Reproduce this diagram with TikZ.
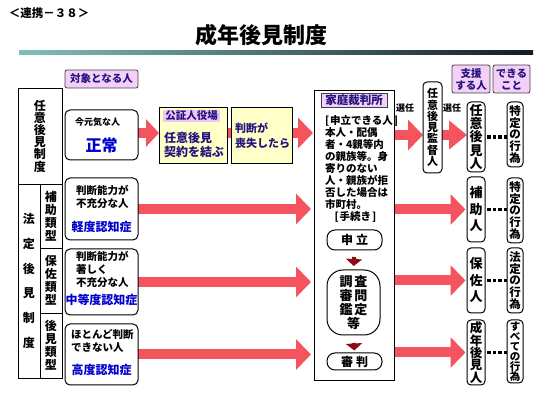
\documentclass[tikz,border=0pt]{standalone}
\usepackage{fontspec}
\setmainfont{Noto Sans CJK JP}
\usetikzlibrary{arrows.meta,backgrounds,calc}
\definecolor{arrred}{RGB}{243,84,94}
\definecolor{navy}{RGB}{35,20,125}
\definecolor{blu}{RGB}{0,0,205}
\definecolor{pinkfill}{RGB}{244,208,248}
\definecolor{pinkhl}{RGB}{240,196,244}
\definecolor{yel}{RGB}{255,255,200}
\definecolor{darkred}{RGB}{140,12,22}
\definecolor{barl}{RGB}{130,190,190}
\definecolor{barm}{RGB}{90,140,150}
\definecolor{barr}{RGB}{20,28,36}
\newcommand{\jfs}[2]{\fontsize{#1}{#2}\selectfont\bfseries}
\begin{document}
\begin{tikzpicture}[x=1pt,y=-1pt,
  every node/.style={inner sep=0pt, outer sep=0pt},
  sqbox/.style={draw=black, line width=0.9pt, rectangle},
  rbox/.style={draw=black, line width=1pt, rounded corners=5pt, fill=white},
  vbox/.style={draw=black, line width=1pt, rounded corners=4pt, fill=white, align=center},
  hdr/.style={draw=black!75, line width=0.8pt, rounded corners=2pt, fill=pinkfill, text=navy, align=center},
  ybox/.style={draw=black, line width=0.9pt, fill=yel},
  pillbox/.style={draw=black, line width=1pt, fill=white, align=center},
  bigarr/.style={draw=arrred, line width=10pt, -{Triangle[length=15pt,width=30pt]}},
  smallarr/.style={draw=darkred, line width=4pt, -{Triangle[length=7pt,width=16pt]}},
  dotline/.style={draw=black, line width=3.5pt, dash pattern=on 3.5pt off 2pt},
  ]
\useasboundingbox (0,0) rectangle (550,406);

% titles
\node[anchor=west, font=\jfs{11.5}{12}] (tag) at (9,13) {＜連携－３８＞};
\node[font=\jfs{22}{24}] (title) at (261.5,35) {成年後見制度};
\shade[left color=barl, middle color=barm, right color=barr] (19,51) rectangle (533,55);

% left column
\node[sqbox, minimum width=44pt, minimum height=96pt, align=center, font=\jfs{12}{12.2}] (ninL) at (40,136) {任\\意\\後\\見\\制\\度};
\node[sqbox, minimum width=22pt, minimum height=194pt, align=center, font=\jfs{12}{24.8}] (houL) at (29,281) {法\\定\\後\\見\\制\\度};
\node[sqbox, minimum width=22pt, minimum height=64pt, align=center, font=\jfs{12}{13}] (hojoL) at (51,216) {補\\助\\類\\型};
\node[sqbox, minimum width=22pt, minimum height=65pt, align=center, font=\jfs{12}{13}] (hosaL) at (51,280.5) {保\\佐\\類\\型};
\node[sqbox, minimum width=22pt, minimum height=65pt, align=center, font=\jfs{12}{13}] (kouL) at (51,345.5) {後\\見\\類\\型};

% target persons
\node[hdr, minimum width=73pt, minimum height=18pt, font=\jfs{10.5}{12}] (taisho) at (101.5,79) {対象となる人};
\node[rbox, minimum width=73pt, minimum height=50pt] (t1) at (101.5,135) {};
\node[anchor=west, font=\jfs{9}{11}] (t1a) at (75,122) {今元気な人};
\node[font=\jfs{16}{16}, text=blu] (t1b) at (101.5,145) {正常};
\node[rbox, minimum width=73pt, minimum height=62pt] (t2) at (101.5,209) {};
\node[anchor=west, align=left, font=\jfs{10.5}{13}] (t2a) at (76,196.5) {判断能力が\\不充分な人};
\node[font=\jfs{12}{13}, text=blu] (t2b) at (101.5,227) {軽度認知症};
\node[rbox, minimum width=73pt, minimum height=66pt] (t3) at (101.5,282) {};
\node[anchor=west, align=left, font=\jfs{10.5}{13}] (t3a) at (76,269) {判断能力が\\著しく\\不充分な人};
\node[font=\jfs{12}{13}, text=blu] (t3b) at (101.5,300) {中等度認知症};
\node[rbox, minimum width=73pt, minimum height=61pt] (t4) at (101.5,354.5) {};
\node[anchor=west, align=left, font=\jfs{10.5}{13}] (t4a) at (71,340.5) {ほとんど判断\\できない人};
\node[font=\jfs{12}{13}, text=blu] (t4b) at (101.5,370) {高度認知症};

% yellow boxes
\node[ybox, minimum width=68pt, minimum height=56pt] (y1) at (193,135) {};
\node[fill=pinkhl, rounded corners=2pt, minimum width=57pt, minimum height=12pt, text=navy, font=\jfs{10.5}{12}] (kosho) at (191.5,116) {公証人役場};
\node[anchor=west, align=left, text=navy, font=\jfs{12}{14}] (y1t) at (164,145) {任意後見\\契約を結ぶ};
\node[ybox, minimum width=61pt, minimum height=56pt] (y2) at (261.5,135) {};
\node[anchor=west, align=left, text=navy, font=\jfs{11}{15}] (y2t) at (235,135.5) {判断が\\喪失したら};

% family court
\node[sqbox, fill=white, minimum width=80pt, minimum height=290pt] (court) at (354,235) {};
\node[draw=black!75, line width=0.8pt, fill=pinkfill, minimum width=66pt, minimum height=14pt, text=navy, font=\jfs{11.5}{12}] (courtT) at (354,100) {家庭裁判所};
\node[anchor=west, align=left, font=\jfs{10.5}{12}] (courtTx) at (325,163) {[\kern1pt 申立できる人\kern1pt]\\本人・配偶\\者・4親等内\\の親族等。身\\寄りのない\\人・親族が拒\\否した場合は\\市町村。};
\node[font=\jfs{10.5}{12}] (tetsu) at (355.5,217) {[\kern1pt 手続き\kern1pt]};
\node[pillbox, rounded corners=8pt, minimum width=55pt, minimum height=20pt, font=\jfs{12}{12}] (moushi) at (354.5,240) {申\hspace{3pt}立};
\node[pillbox, rounded corners=16pt, minimum width=53pt, minimum height=65pt, font=\jfs{13}{14}] (chosa) at (353.5,302.5) {調\hspace{2pt}査\\審\hspace{2pt}問\\鑑\hspace{2pt}定\\等};
\node[pillbox, rounded corners=8pt, minimum width=55pt, minimum height=17pt, font=\jfs{12}{12}] (shinpan) at (354.5,361.5) {審\hspace{3pt}判};
\draw[smallarr, shorten <=7pt, shorten >=4pt] (moushi.south) -- (chosa.north);
\draw[smallarr, shorten <=8pt, shorten >=2.5pt] (chosa.south) -- (shinpan.north);

% right side
\node[vbox, minimum width=19pt, minimum height=91pt, font=\jfs{11}{11.3}] (kantoku) at (432.5,127.5) {任\\意\\後\\見\\監\\督\\人};
\node[font=\jfs{9}{10}] (sen1) at (405,108) {選任};
\node[font=\jfs{9}{10}] (sen2) at (452,108) {選任};
\node[hdr, minimum width=38pt, minimum height=28pt, font=\jfs{10.5}{12}] (shien) at (471,79) {支援\\する人};
\node[hdr, minimum width=37pt, minimum height=28pt, font=\jfs{10.5}{12}] (dekiru) at (511.5,79) {できる\\こと};

\node[vbox, minimum width=18pt, minimum height=70pt, font=\jfs{13}{13.4}] (s1) at (476,137) {任\\意\\後\\見\\人};
\node[vbox, minimum width=18pt, minimum height=65pt, font=\jfs{13}{16.5}] (s2) at (476,209.5) {補\\助\\人};
\node[vbox, minimum width=18pt, minimum height=65pt, font=\jfs{13}{16.5}] (s3) at (476,280.5) {保\\佐\\人};
\node[vbox, minimum width=18pt, minimum height=65pt, font=\jfs{12.5}{12.3}] (s4) at (476,352.5) {成\\年\\後\\見\\人};

\node[vbox, minimum width=16pt, minimum height=65pt, font=\jfs{11.5}{11.6}] (a1) at (515,134.5) {特\\定\\の\\行\\為};
\node[vbox, minimum width=16pt, minimum height=65pt, font=\jfs{11.5}{11.8}] (a2) at (515,210.5) {特\\定\\の\\行\\為};
\node[vbox, minimum width=16pt, minimum height=65pt, font=\jfs{11.5}{11.8}] (a3) at (515,280.5) {法\\定\\の\\行\\為};
\node[vbox, minimum width=16pt, minimum height=63pt, font=\jfs{10.5}{10}] (a4) at (515,351.5) {す\\べ\\て\\の\\行\\為};

\draw[dotline, shorten <=2pt] (s1.east) -- (a1.west |- s1.east);
\draw[dotline, shorten <=2pt] (s2.east) -- (a2.west |- s2.east);
\draw[dotline, shorten <=2pt] (s3.east) -- (a3.west |- s3.east);
\draw[dotline, shorten <=2pt] (s4.east) -- (a4.west |- s4.east);

\coordinate (r1) at (0,133);
\coordinate (r1r) at (0,135);
\begin{pgfonlayer}{background}
\draw[bigarr, -{Triangle[length=13pt,width=27pt]}] (t1.east |- r1) -- (y1.west |- r1);
\draw[bigarr, shorten >=1pt] (y1.east |- r1) -- (court.west |- r1);
\draw[bigarr, shorten >=3pt] (t2.east) -- (court.west |- t2.east);
\draw[bigarr, shorten >=3pt] (t3.east) -- (court.west |- t3.east);
\draw[bigarr, shorten >=3pt] (t4.east) -- (court.west |- t4.east);
\draw[bigarr] (court.east |- r1r) -- (kantoku.west |- r1r);
\draw[bigarr, -{Triangle[length=18pt,width=28pt]}] (kantoku.east |- r1r) -- (s1.west |- r1r);
\draw[bigarr, shorten >=1.5pt] (court.east |- s2.west) -- (s2.west);
\draw[bigarr, shorten >=1.5pt] (court.east |- s3.west) -- (s3.west);
\draw[bigarr, shorten >=1.5pt] (court.east |- s4.west) -- (s4.west);
\end{pgfonlayer}
\end{tikzpicture}
\end{document}
